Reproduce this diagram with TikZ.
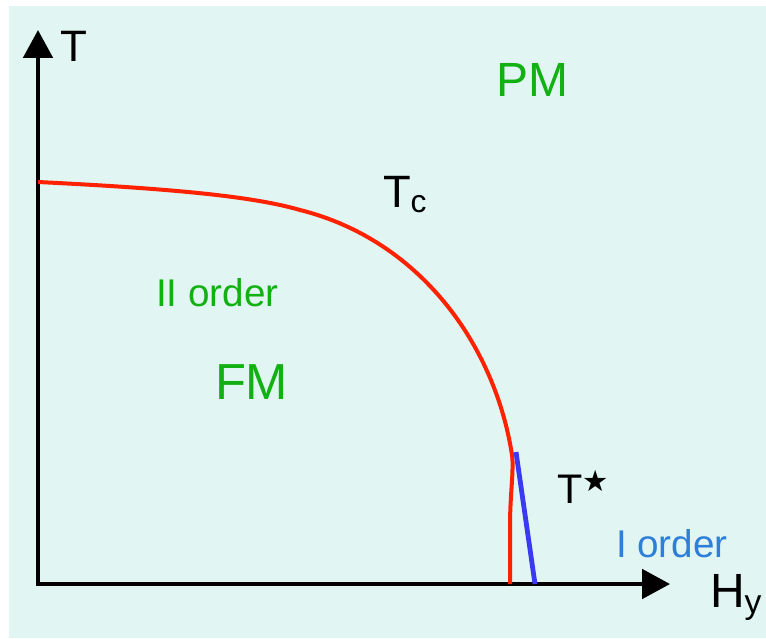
\documentclass[tikz,border=0pt]{standalone}
\usepackage{fontspec}
\setmainfont{Liberation Sans}
\newfontfamily\symfont{DejaVu Sans}
\usepackage{xcolor}
\usepackage{tikz}
\usetikzlibrary{arrows.meta}
\definecolor{bgc}{HTML}{E1F5F2}
\definecolor{linec}{HTML}{FF2200}
\definecolor{jumpc}{HTML}{3A3AF5}
\definecolor{phasec}{HTML}{12B012}
\definecolor{orderc}{HTML}{2E7FD8}
\tikzset{
  axis/.style={line width=3pt,line join=miter,{Triangle[length=21pt,width=22pt]}-{Triangle[length=21pt,width=22pt]}},
  lbl/.style={anchor=base west,inner sep=0pt,outer sep=0pt},
  big/.style={lbl,font=\fontsize{36}{40}\selectfont},
  mid/.style={lbl,font=\fontsize{29}{33}\selectfont}
}
\newcommand{\tstar}{\raisebox{9pt}{\fontsize{22}{22}\selectfont\symfont ★}}

\begin{document}
\begin{tikzpicture}[x=0.75pt,y=-0.75pt]
\useasboundingbox (0,0) rectangle (766,638);
\fill[bgc] (9,6) rectangle (766,638);
% axes
\coordinate (ytip) at (38,30);
\coordinate (xtip) at (670,584);
\draw[axis] (ytip) |- (xtip);
\node[big,font=\fontsize{33}{37}\selectfont] (tlab) at (60,62) {T};
\node[big] (hlab) at (710,607) {H\textsubscript{y}};
% transition lines
\draw[linec,line width=3pt] (38,182) .. controls (180,189) and (255,197) .. (300,210)
  .. controls (420,240) and (495,345) .. (512,455)
  .. controls (514,470) and (510,495) .. (510,525) -- (510,584);
\draw[jumpc,line width=3.6pt] (516,452) -- (535,584);
% labels
\node[big,phasec] (pm) at (496,97) {PM};
\node[big,phasec,font=\fontsize{38}{42}\selectfont] (fm) at (215,399) {FM};
\node[mid,phasec] (sec) at (156,306) {II order};
\node[mid,orderc] (fst) at (616,557) {I order};
\node[big,font=\fontsize{34}{38}\selectfont] (tc) at (383,207) {T\textsubscript{c}};
\node[big,font=\fontsize{31}{35}\selectfont] (ts) at (557,503) {T\tstar};
\end{tikzpicture}
\end{document}
